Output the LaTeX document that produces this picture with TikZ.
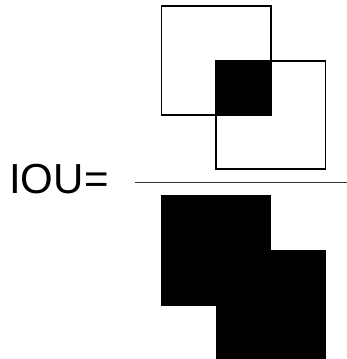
\documentclass[tikz,border=0pt]{standalone}
\usepackage{fontspec}
\setmainfont{Liberation Sans}
\tikzset{box/.style={draw=black,line width=1.2pt},
  solid box/.style={fill=black,draw=none},
  frac line/.style={draw=black!80,line width=1.2pt}}
\begin{document}
\begin{tikzpicture}[x=1pt,y=-1pt]
\useasboundingbox (0,0) rectangle (347,359);
% numerator: two boxes with intersection
\fill[solid box] (216,61) rectangle (271,115);
\draw[box] (161.5,6) rectangle (271,115);
\draw[box] (216,61) rectangle (325.5,169);
% fraction line
\coordinate (l) at (135,182.5);
\coordinate (r) at (347,182.5);
\draw[frac line] (l) -- (r);
% denominator: union
\fill[solid box] (161,195) rectangle (271,306);
\fill[solid box] (215.5,250) rectangle (326,359);
% label
\node[anchor=base west,inner sep=0pt,font=\fontsize{42}{42}\selectfont] (iou) at (9,193) {IOU\kern1pt=};
\end{tikzpicture}
\end{document}
